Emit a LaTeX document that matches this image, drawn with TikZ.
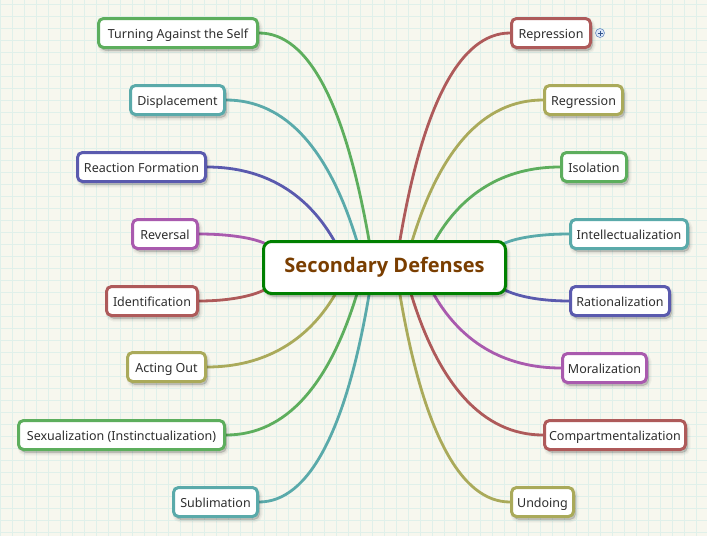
\documentclass[tikz,border=0pt]{standalone}
\usepackage{fontspec}
\setmainfont{Noto Sans}
\newfontfamily\centerfont{Open Sans}
\usetikzlibrary{calc}
\definecolor{bgc}{HTML}{F7F7EE}
\definecolor{gridc}{HTML}{E0F0EA}
\definecolor{cgreen}{HTML}{5DAE5D}
\definecolor{cteal}{HTML}{5AAAAA}
\definecolor{cindigo}{HTML}{5A5AAE}
\definecolor{cpurple}{HTML}{A95AAE}
\definecolor{cred}{HTML}{AE5A5A}
\definecolor{colive}{HTML}{AAAA5A}
\definecolor{mainborder}{HTML}{008000}
\definecolor{maintext}{HTML}{7A3E00}
\definecolor{leaftext}{HTML}{2E2E2E}
\definecolor{plusborder}{HTML}{6A8BC0}
\definecolor{plusfill}{HTML}{DCE7F7}
\definecolor{plussign}{HTML}{35558F}
\pgfdeclarelayer{bglayer}
\pgfdeclarelayer{lines}
\pgfsetlayers{bglayer,lines,main}
\tikzset{
  softshadow/.style={
    preaction={fill=black, draw=black, line width=6pt, opacity=0.035, transform canvas={shift={(2,3)}}},
    preaction={fill=black, draw=black, line width=3.5pt, opacity=0.05, transform canvas={shift={(2,3)}}},
    preaction={fill=black, draw=black, line width=1pt, opacity=0.07, transform canvas={shift={(2,3)}}}},
  leaf/.style={draw, line width=3pt, rounded corners=5pt, fill=white, softshadow,
    minimum height=29pt, inner sep=0pt, text=leaftext, text height=10pt, text depth=0pt,
    font=\fontsize{12.5}{14}\selectfont},
  centerbox/.style={draw=mainborder, line width=3pt, rounded corners=8pt, fill=white, softshadow,
    minimum width=242pt, minimum height=52pt, inner sep=0pt, text=maintext,
    text height=10pt, text depth=0pt,
    font=\centerfont\fontsize{20}{22}\selectfont\bfseries},
  conn/.style={line width=2.8pt},
  gridline/.style={draw=gridc, line width=0.7pt},
  plusicon/.style={circle, draw=plusborder, fill=plusfill, line width=0.6pt, minimum size=9pt, inner sep=0pt}
}
\begin{document}
\begin{tikzpicture}[x=1pt,y=-1pt]
\useasboundingbox (0,0) rectangle (707,536);
\begin{pgfonlayer}{bglayer}
\fill[bgc] (0,0) rectangle (707,536);
\foreach \i in {0,...,58} \draw[gridline] ({12*\i+0.5},0) -- ({12*\i+0.5},536);
\foreach \j in {0,...,44} \draw[gridline] (0,{12*\j+4}) -- (707,{12*\j+4});
\end{pgfonlayer}

\node[centerbox] (c) at (384.5,267.5) {Secondary Defenses};

% left
\node[leaf, draw=cgreen,  minimum width=159pt] (L1) at (178,33)   {Turning Against the Self};
\node[leaf, draw=cteal,   minimum width=94pt]  (L2) at (177.5,100) {Displacement};
\node[leaf, draw=cindigo, minimum width=128pt] (L3) at (141.5,167) {Reaction Formation};
\node[leaf, draw=cpurple, minimum width=65pt]  (L4) at (165,234)  {Reversal};
\node[leaf, draw=cred,    minimum width=91pt]  (L5) at (152,301)  {Identification};
\node[leaf, draw=colive,  minimum width=78pt]  (L6) at (166.5,367) {Acting Out};
\node[leaf, draw=cgreen,  minimum width=206pt] (L7) at (121.5,435) {Sexualization (Instinctualization)};
\node[leaf, draw=cteal,   minimum width=84pt]  (L8) at (215.5,502) {Sublimation};
% right
\node[leaf, draw=cred,    minimum width=79pt]  (R1) at (551,33)   {Repression};
\node[leaf, draw=colive,  minimum width=78pt]  (R2) at (583.5,100) {Regression};
\node[leaf, draw=cgreen,  minimum width=65pt]  (R3) at (594,167)  {Isolation};
\node[leaf, draw=cteal,   minimum width=117pt] (R4) at (629,234)  {Intellectualization};
\node[leaf, draw=cindigo, minimum width=99pt]  (R5) at (620,301)  {Rationalization};
\node[leaf, draw=cpurple, minimum width=84pt]  (R6) at (604.5,368) {Moralization};
\node[leaf, draw=cred,    minimum width=141pt] (R7) at (615,435)  {Compartmentalization};
\node[leaf, draw=colive,  minimum width=62pt]  (R8) at (542.5,502) {Undoing};

\node[plusicon] (plus) at (600,33) {};
\draw[plussign, line width=0.8pt] ($(plus.center)+(-2.5,0)$) -- ($(plus.center)+(2.5,0)$)
  ($(plus.center)+(0,-2.5)$) -- ($(plus.center)+(0,2.5)$);

\begin{pgfonlayer}{lines}
\draw[conn, cgreen]  (L1.east) .. controls +(50,0) and +(-24,-138) .. ($(c.north)+(-15,3)$);
\draw[conn, cteal]   (L2.east) .. controls +(60,0) and +(-28,-93) .. ($(c.north)+(-27,3)$);
\draw[conn, cindigo] (L3.east) .. controls +(58,0) and +(-27,-49) .. ($(c.north)+(-49,3)$);
\draw[conn, cpurple] (L4.east) .. controls +(28,0) and +(-13,-6) .. ($(c.west)+(3,-24)$);
\draw[conn, cred]    (L5.east) .. controls +(28,0) and +(-13,7) .. ($(c.west)+(3,22)$);
\draw[conn, colive]  (L6.east) .. controls +(58,0) and +(-27,48) .. ($(c.south)+(-48,-3)$);
\draw[conn, cgreen]  (L7.east) .. controls +(60,0) and +(-28,93) .. ($(c.south)+(-27,-3)$);
\draw[conn, cteal]   (L8.east) .. controls +(50,0) and +(-23,138) .. ($(c.south)+(-15,-3)$);
\draw[conn, cred]    (R1.west) .. controls +(-50,0) and +(23,-138) .. ($(c.north)+(15,3)$);
\draw[conn, colive]  (R2.west) .. controls +(-60,0) and +(28,-93) .. ($(c.north)+(27,3)$);
\draw[conn, cgreen]  (R3.west) .. controls +(-57,0) and +(27,-49) .. ($(c.north)+(49,3)$);
\draw[conn, cteal]   (R4.west) .. controls +(-28,0) and +(13,-6) .. ($(c.east)+(-3,-24)$);
\draw[conn, cindigo] (R5.west) .. controls +(-28,0) and +(13,7) .. ($(c.east)+(-3,22)$);
\draw[conn, cpurple] (R6.west) .. controls +(-58,0) and +(27,49) .. ($(c.south)+(48,-3)$);
\draw[conn, cred]    (R7.west) .. controls +(-60,0) and +(28,93) .. ($(c.south)+(26,-3)$);
\draw[conn, colive]  (R8.west) .. controls +(-50,0) and +(23,138) .. ($(c.south)+(15,-3)$);
\end{pgfonlayer}
\end{tikzpicture}
\end{document}
